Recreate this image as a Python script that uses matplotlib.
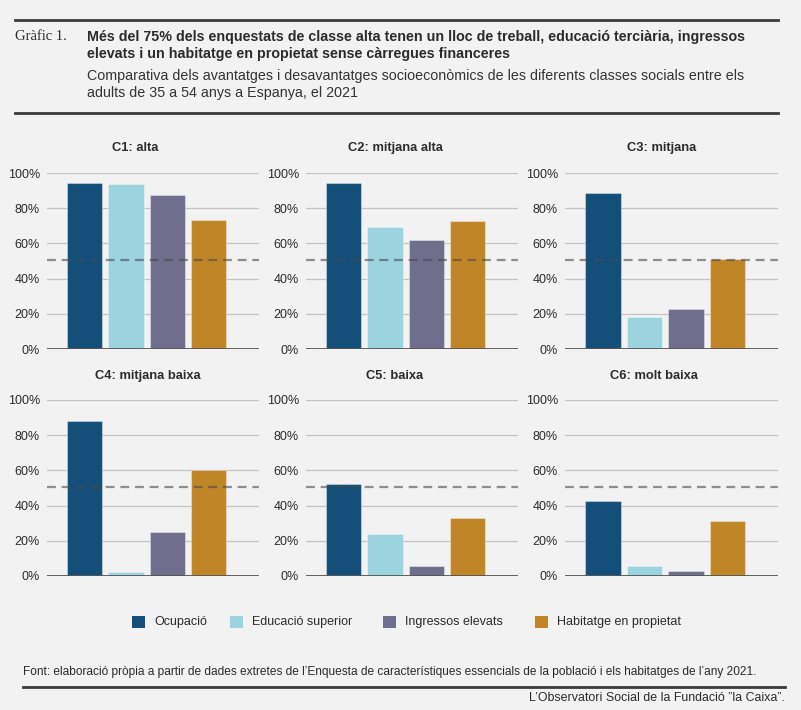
import matplotlib

matplotlib.use("Agg")
import matplotlib.pyplot as plt
from matplotlib.patches import Rectangle
from matplotlib.lines import Line2D

# --- data ---
classes = ["C1: alta", "C2: mitjana alta", "C3: mitjana",
           "C4: mitjana baixa", "C5: baixa", "C6: molt baixa"]
series_names = ["Ocupació", "Educació superior", "Ingressos elevats", "Habitatge en propietat"]
ocupacio = [94.5, 94.3, 88.8, 88.2, 52.1, 42.8]
educacio = [93.9, 69.4, 17.9, 2.5, 24.0, 5.7]
ingressos = [87.5, 62.2, 22.6, 24.9, 5.7, 3.0]
habitatge = [73.4, 72.6, 51.0, 60.5, 32.9, 31.4]
reference = 50.8
yticks = [0, 20, 40, 60, 80, 100]

COLORS = ["#134f78", "#9bd3de", "#6f6f8d", "#c08527"]
BG = "#f2f2f2"
TXT = "#2b2b2b"
FONT = ["Liberation Sans Narrow", "Liberation Sans", "DejaVu Sans"]

plt.rcParams["font.family"] = FONT

W, H = 801, 710
fig = plt.figure(figsize=(W / 100, H / 100), dpi=100, facecolor=BG)


def rect(x0, y_top, x1, y_bot):
    return [x0 / W, 1 - y_bot / H, (x1 - x0) / W, (y_bot - y_top) / H]


def hline(y, x0, x1, lw=2.0, color="#3a3a3a"):
    fig.add_artist(Line2D([x0 / W, x1 / W], [1 - y / H, 1 - y / H],
                          transform=fig.transFigure, color=color, lw=lw))


# --- header ---
hline(20, 15, 778)
hline(113, 15, 778)
fig.text(15 / W, 1 - 37 / H, "Gràfic 1.", family=["Liberation Serif", "DejaVu Serif"],
         fontsize=10.5, color=TXT, va="center")
fig.text(87 / W, 1 - 37 / H,
         "Més del 75% dels enquestats de classe alta tenen un lloc de treball, educació terciària, ingressos",
         fontsize=10.3, fontweight="bold", color=TXT, va="center")
fig.text(87 / W, 1 - 54 / H,
         "elevats i un habitatge en propietat sense càrregues financeres",
         fontsize=10.3, fontweight="bold", color=TXT, va="center")
fig.text(87 / W, 1 - 76 / H,
         "Comparativa dels avantatges i desavantatges socioeconòmics de les diferents classes socials entre els",
         fontsize=10.3, color="#333333", va="center")
fig.text(87 / W, 1 - 93 / H, "adults de 35 a 54 anys a Espanya, el 2021",
         fontsize=10.3, color="#333333", va="center")

# --- panels ---
cols = [(47, 259), (306, 518), (565, 778)]
rows = [(173, 349), (400, 576)]
title_y = [148, 376]
title_x = [135, 395, 662, 148, 395, 654]
values = list(zip(ocupacio, educacio, ingressos, habitatge))

for i, name in enumerate(classes):
    r, c = divmod(i, 3)
    x0, x1 = cols[c]
    yt, yb = rows[r]
    ax = fig.add_axes(rect(x0, yt, x1, yb))
    ax.set_facecolor(BG)
    ax.bar(range(4), values[i], width=0.86, color=COLORS, edgecolor=(1, 1, 1, 0.35),
           linewidth=0.8, zorder=2)
    for t in yticks[1:]:
        ax.axhline(t, color="#c4c4c4", lw=0.9, zorder=1)
    ax.axhline(0, color="#555555", lw=1.3, zorder=3)
    ax.axhline(reference, color="#4a4a4a", alpha=0.6, lw=1.6,
               linestyle=(0, (4, 2.6)), zorder=4)
    ax.set_xlim(-0.914, 4.22)
    ax.set_ylim(0, 100)
    ax.set_yticks(yticks)
    ax.set_yticklabels([f"{t}%" for t in yticks])
    ax.set_xticks([])
    ax.tick_params(axis="y", length=0, pad=5, labelsize=9, labelcolor=TXT)
    for s in ax.spines.values():
        s.set_visible(False)
    fig.text(title_x[i] / W, 1 - title_y[r] / H, name, fontsize=9.3, fontweight="bold",
             color=TXT, ha="center", va="center")

# --- legend ---
leg_x = [132, 230, 383, 535]
for x, col, lab in zip(leg_x, COLORS, series_names):
    fig.add_artist(Rectangle((x / W, 1 - 628 / H), 13 / W, 12 / H,
                             transform=fig.transFigure, facecolor=col, edgecolor="none"))
    fig.text((x + 22) / W, 1 - 622 / H, lab, fontsize=9, color=TXT, va="center")

# --- footer ---
fig.text(23 / W, 1 - 672 / H,
         "Font: elaboració pròpia a partir de dades extretes de l’Enquesta de característiques "
         "essencials de la població i els habitatges de l’any 2021.",
         fontsize=8.6, color=TXT, va="center")
hline(687, 23, 785)
fig.text(785 / W, 1 - 698 / H, "L’Observatori Social de la Fundació ”la Caixa”.",
         fontsize=8.9, color=TXT, va="center", ha="right")

fig.savefig("out.png", dpi=100, facecolor=BG)
